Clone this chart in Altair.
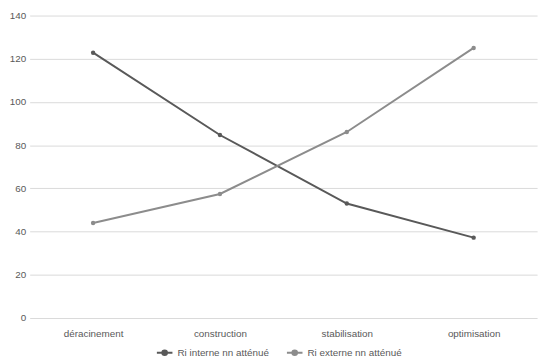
import altair as alt
import pandas as pd

stages = ["déracinement", "construction", "stabilisation", "optimisation"]
interne = [122.8, 84.7, 53.0, 37.2]
externe = [44.0, 57.4, 86.1, 125.0]
series_names = ["Ri interne nn atténué", "Ri externe nn atténué"]
colors = ["#595959", "#8c8c8c"]

rows = []
for name, vals in zip(series_names, [interne, externe]):
    for s, v in zip(stages, vals):
        rows.append({"stage": s, "value": v, "series": name})
df = pd.DataFrame(rows)

sym = "M-1,0H-0.3M0.3,0H1M-0.3,0A0.3,0.3 0 1,1 0.3,0A0.3,0.3 0 1,1 -0.3,0Z"

chart = alt.Chart(df).mark_line(point=alt.OverlayMarkDef(size=20, filled=True), strokeWidth=2).encode(
    x=alt.X("stage:N", sort=stages, title=None,
            scale=alt.Scale(paddingInner=0, paddingOuter=0.5),
            axis=alt.Axis(labelAngle=0, ticks=False, domain=False, labelColor="#595959",
                          labelFontSize=10, labelPadding=11, labelFont="Liberation Sans")),
    y=alt.Y("value:Q", title=None, scale=alt.Scale(domain=[0, 140]),
            axis=alt.Axis(values=list(range(0, 141, 20)), ticks=False, domain=False,
                          gridColor="#d9d9d9", labelColor="#595959", labelFontSize=10,
                          labelPadding=4, labelFont="Liberation Sans")),
    color=alt.Color("series:N", sort=series_names,
                    scale=alt.Scale(domain=series_names, range=colors),
                    legend=alt.Legend(orient="none", direction="horizontal", legendX=128, legendY=333,
                                      title=None, symbolType=sym,
                                      symbolSize=250, symbolStrokeWidth=2, labelFontSize=10,
                                      labelColor="#595959", labelFont="Liberation Sans",
                                      columnPadding=14)),
).properties(
    width=515, height=307,
    autosize=alt.AutoSizeParams(type="none"),
    padding={"left": 22, "top": 5, "right": 5, "bottom": 42},
).configure_view(stroke=None)

chart.save("out.html", embed_options={"renderer": "svg", "actions": False})
